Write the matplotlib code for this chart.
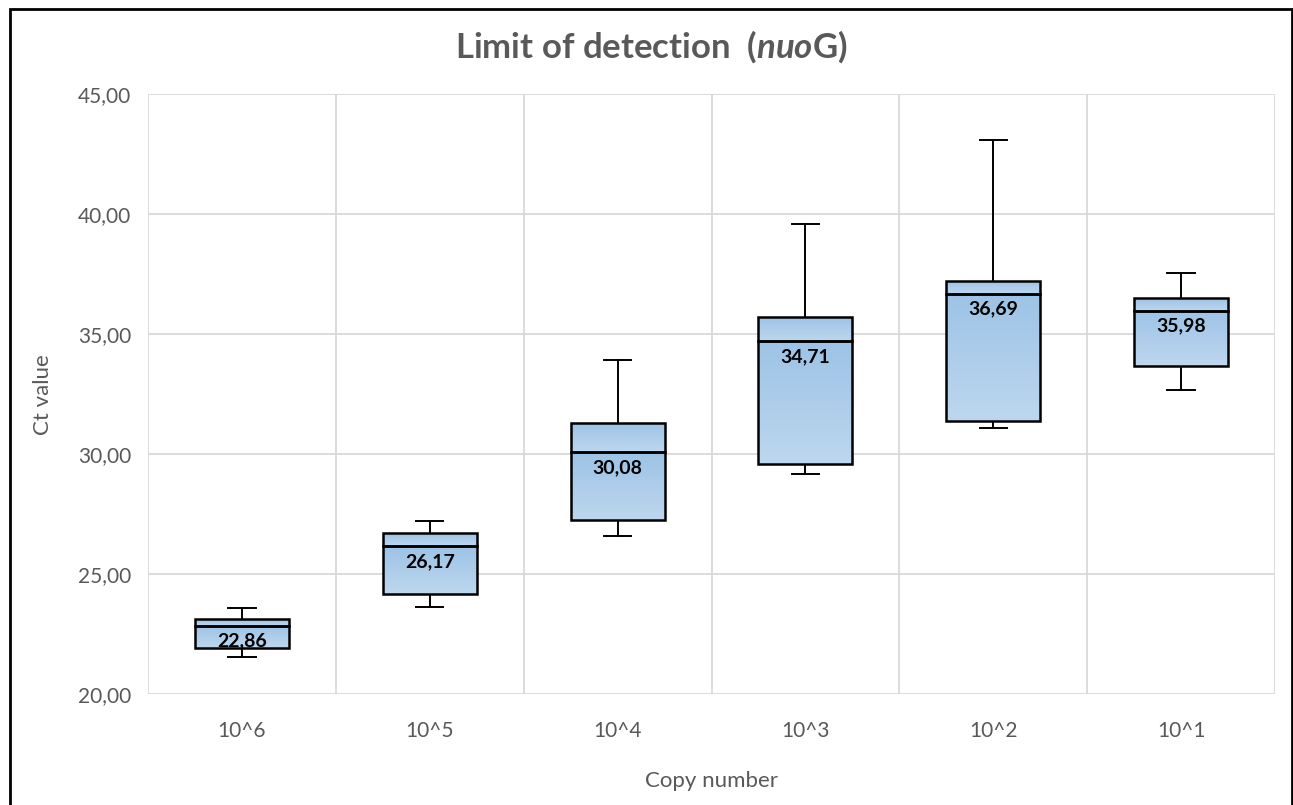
import numpy as np
import matplotlib.pyplot as plt
from matplotlib.patches import Rectangle
from matplotlib.colors import LinearSegmentedColormap

plt.rcParams['font.family'] = ['Lato', 'DejaVu Sans']
plt.rcParams['mathtext.fontset'] = 'custom'
plt.rcParams['mathtext.rm'] = 'Lato:bold'
plt.rcParams['mathtext.it'] = 'Lato:bold:italic'

categories = ['10^6', '10^5', '10^4', '10^3', '10^2', '10^1']
whisker_low = [21.54, 23.65, 26.58, 29.19, 31.08, 32.67]
q1 = [21.94, 24.19, 27.26, 29.60, 31.39, 33.67]
median = [22.86, 26.17, 30.08, 34.71, 36.69, 35.98]
q3 = [23.15, 26.71, 31.29, 35.71, 37.23, 36.50]
whisker_high = [23.61, 27.21, 33.94, 39.61, 43.11, 37.55]

grey = '#595959'
grad = LinearSegmentedColormap.from_list('g', ['#9dc3e6', '#bdd7ee'])

fig = plt.figure(figsize=(12.93, 8.05), dpi=100)
ax = fig.add_axes([148/1293, 1 - 694.3/805, (1275-148)/1293, 600/805])

box_w = 0.5
cap_w = 0.145
for i in range(len(categories)):
    x = i + 0.5
    # whiskers
    ax.plot([x, x], [q3[i], whisker_high[i]], color='black', lw=1.4, zorder=3)
    ax.plot([x, x], [whisker_low[i], q1[i]], color='black', lw=1.4, zorder=3)
    ax.plot([x - cap_w/2, x + cap_w/2], [whisker_high[i]] * 2, color='black', lw=1.4, zorder=3)
    ax.plot([x - cap_w/2, x + cap_w/2], [whisker_low[i]] * 2, color='black', lw=1.4, zorder=3)
    # two box segments with gradient fill (dark at top)
    for lo, hi in [(q1[i], median[i]), (median[i], q3[i])]:
        rect = Rectangle((x - box_w/2, lo), box_w, hi - lo, facecolor='none',
                         edgecolor='black', lw=1.8, zorder=5)
        ax.add_patch(rect)
        img = ax.imshow(np.linspace(0, 1, 100).reshape(-1, 1), cmap=grad, aspect='auto',
                        extent=(x - box_w/2, x + box_w/2, lo, hi), origin='upper',
                        zorder=4, interpolation='bilinear')
        img.set_clip_path(rect)
    ax.annotate(f'{median[i]:.2f}'.replace('.', ','), (x, median[i]), xytext=(0, -5),
                textcoords='offset points', ha='center', va='top', fontsize=14,
                fontweight='bold', color='black', zorder=6)

ax.set_xlim(0, 6)
ax.set_ylim(20, 45)
ax.set_xticks([i + 0.5 for i in range(len(categories))])
ax.set_xticklabels(categories)
ax.set_xticks(range(7), minor=True)
ax.set_yticks(np.arange(20, 46, 5))
ax.set_yticklabels([f'{v:.2f}'.replace('.', ',') for v in np.arange(20, 46, 5)])
ax.tick_params(axis='both', which='both', length=0, labelsize=15, colors=grey)
ax.tick_params(axis='y', pad=12)
ax.tick_params(axis='x', pad=19)
ax.grid(True, axis='y', which='major', color='#d9d9d9', lw=1.3, zorder=0)
ax.grid(True, axis='x', which='minor', color='#d9d9d9', lw=1.3, zorder=0)
for s in ax.spines.values():
    s.set_visible(False)

ax.set_xlabel('Copy number', fontsize=16, color=grey, labelpad=22)
ax.set_ylabel('Ct value', fontsize=16, color=grey, labelpad=18)

fig.text(651/1293, 1 - 47/805, r'Limit of detection  ($\mathit{nuo}$G)', ha='center',
         va='center', fontsize=25, fontweight='bold', color=grey)

# chart border
fig.add_artist(Rectangle((10/1293, -0.01), (1292-10)/1293, 1.01 - 9/805,
                         transform=fig.transFigure, fill=False, edgecolor='black', lw=2))

fig.savefig('out.png', dpi=100)
